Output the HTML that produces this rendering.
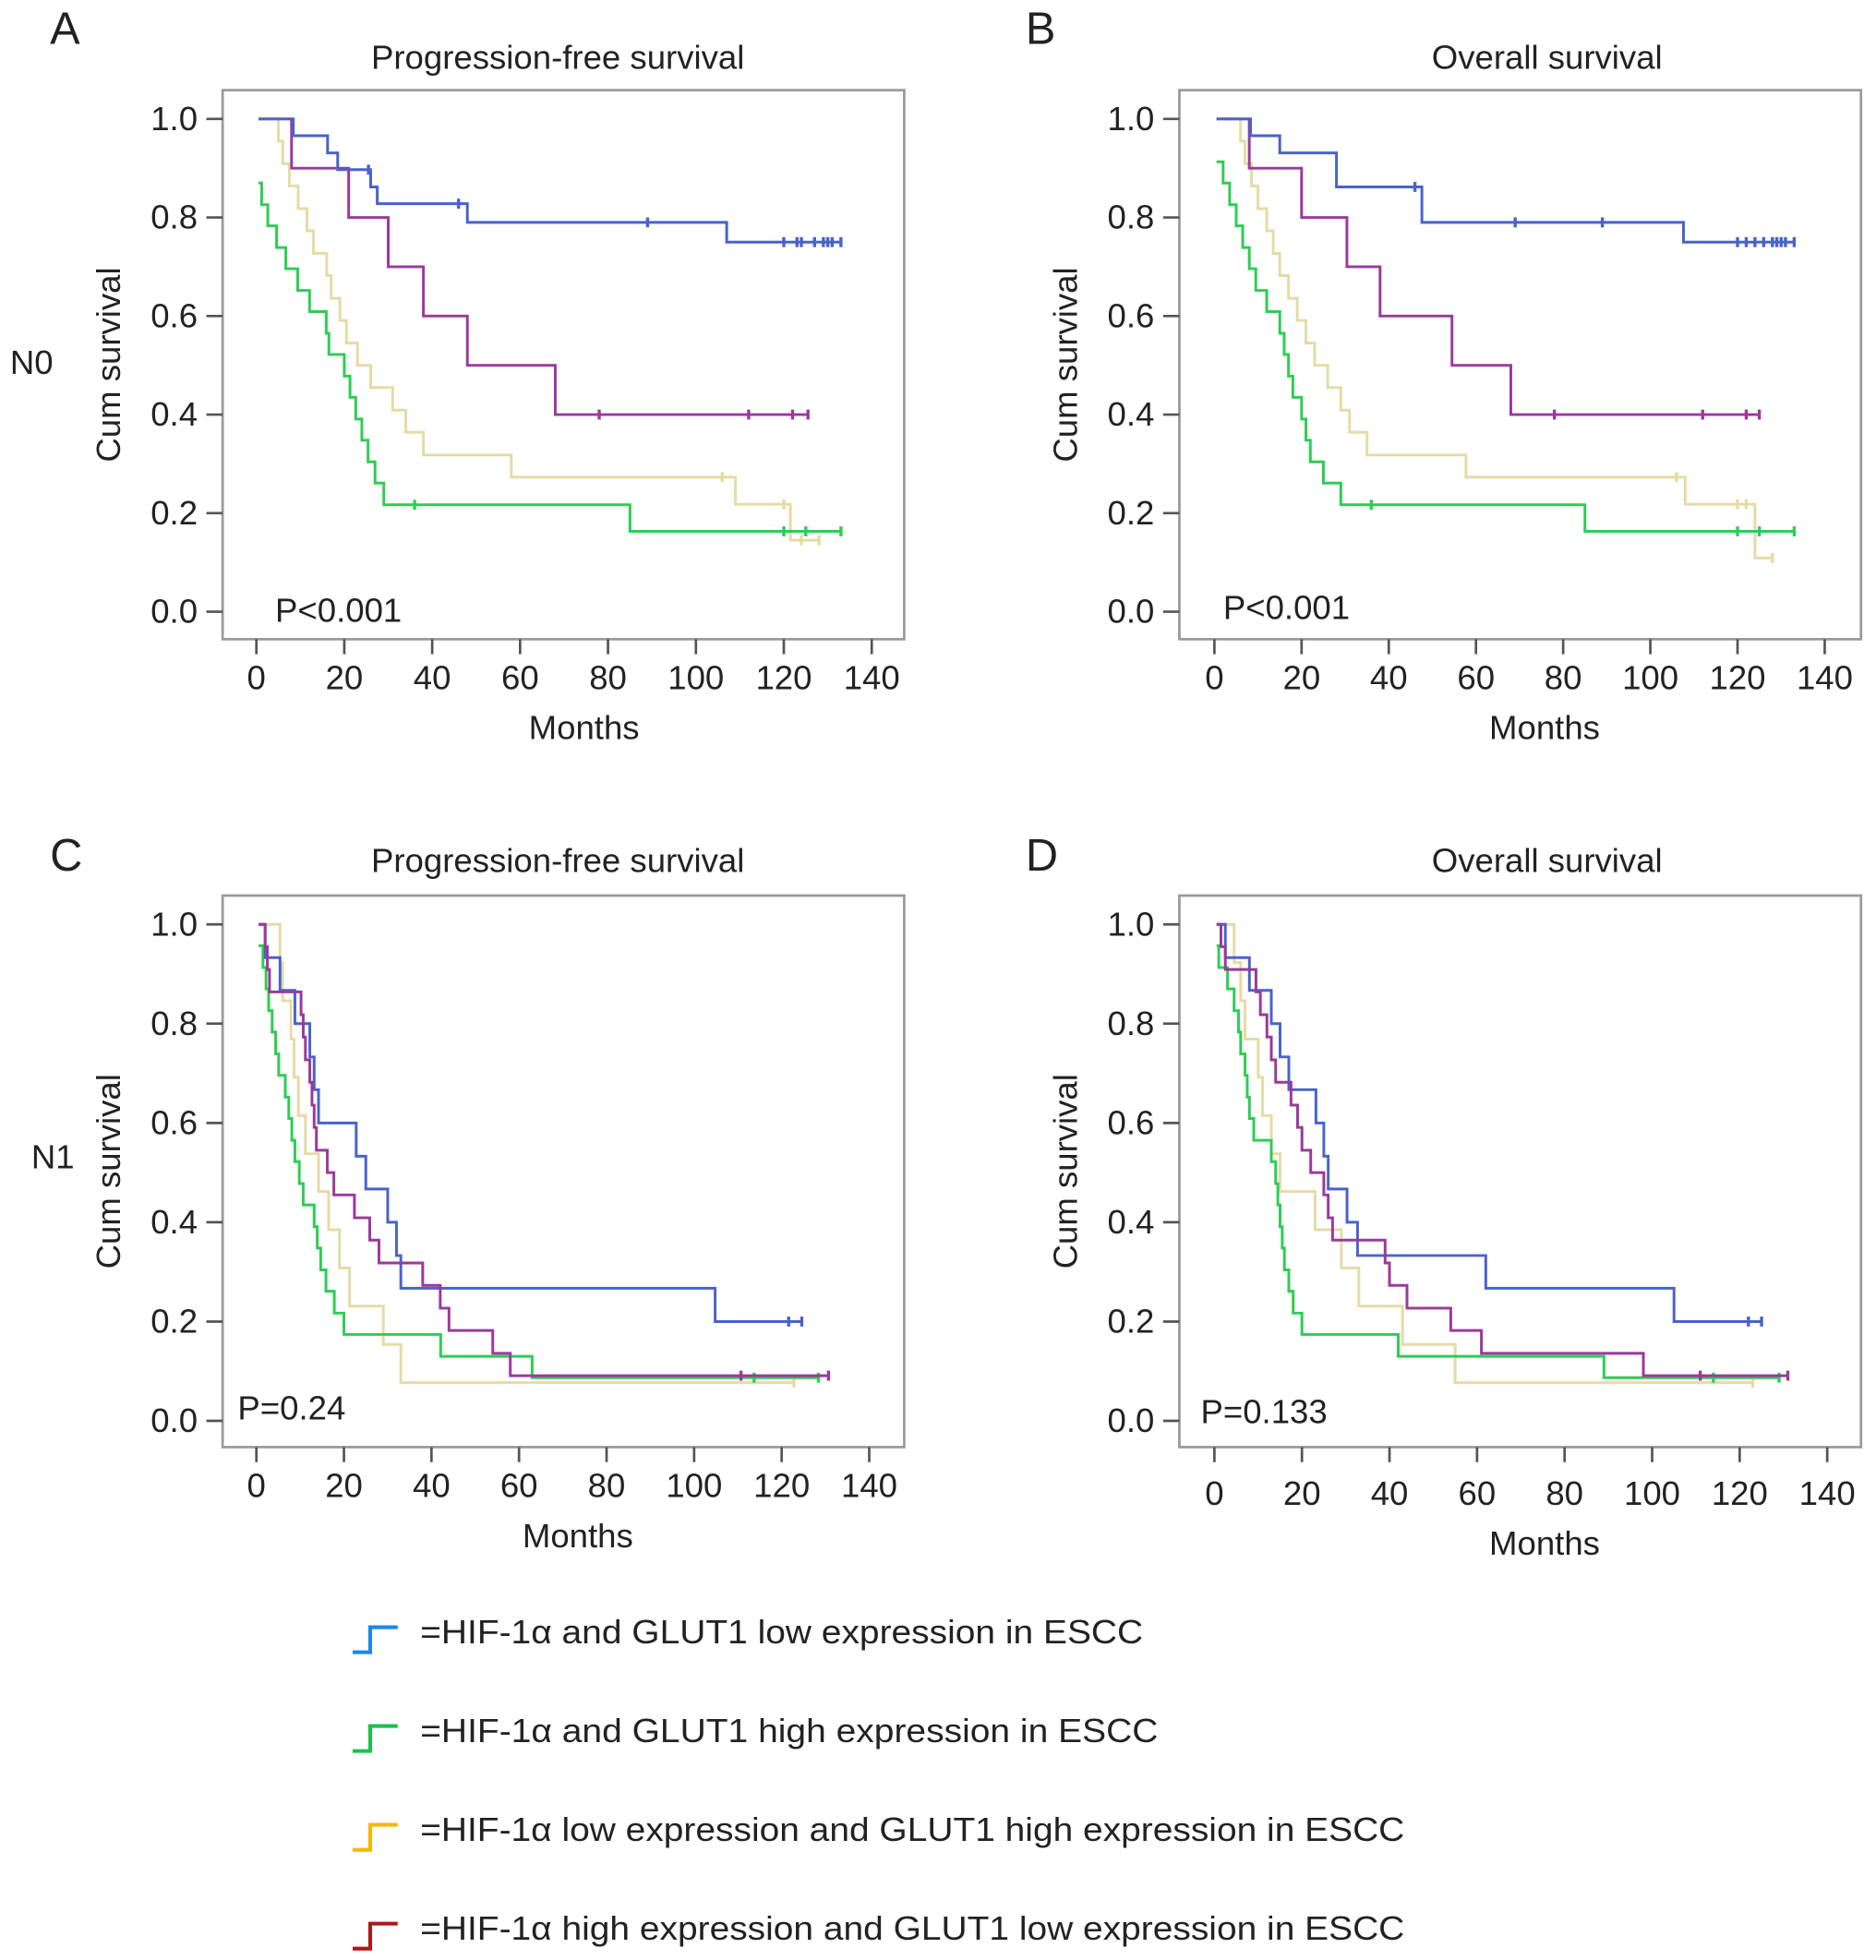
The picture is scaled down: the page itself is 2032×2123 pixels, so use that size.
<!DOCTYPE html>
<html><head><meta charset="utf-8">
<style>
html,body{margin:0;padding:0;background:#fff;}
svg{display:block;}
text{font-family:"Liberation Sans",Arial,sans-serif;fill:#222;}
</style></head>
<body>
<svg id="fig" width="2032" height="2123" viewBox="0 0 1500 1567" xmlns="http://www.w3.org/2000/svg">
<g id="root"></g>
<g id="legend">
  <g>
    <path d="M282 1321 H296 V1301 H318" fill="none" stroke="#1a88ee" stroke-width="3"/>
    <text x="336" y="1314" font-size="27" textLength="578" lengthAdjust="spacingAndGlyphs">=HIF-1α and GLUT1 low expression in ESCC</text>
  </g>
  <g>
    <path d="M282 1400 H296 V1380 H318" fill="none" stroke="#1bc24a" stroke-width="3"/>
    <text x="336" y="1393" font-size="27" textLength="590" lengthAdjust="spacingAndGlyphs">=HIF-1α and GLUT1 high expression in ESCC</text>
  </g>
  <g>
    <path d="M282 1479 H296 V1459 H318" fill="none" stroke="#f5b800" stroke-width="3"/>
    <text x="336" y="1472" font-size="27" textLength="787" lengthAdjust="spacingAndGlyphs">=HIF-1α low expression and GLUT1 high expression in ESCC</text>
  </g>
  <g>
    <path d="M282 1558 H296 V1538 H318" fill="none" stroke="#aa1a1a" stroke-width="3"/>
    <text x="336" y="1551" font-size="27" textLength="787" lengthAdjust="spacingAndGlyphs">=HIF-1α high expression and GLUT1 low expression in ESCC</text>
  </g>
</g>
</svg>
<script>
// ---------- data (months, survival) ----------
const xTicks = [0,20,40,60,80,100,120,140];
const yTicks = [0,0.2,0.4,0.6,0.8,1.0];
const yTickLabels = ["0.0","0.2","0.4","0.6","0.8","1.0"];

// Panel A: PFS N0
const aBlueT = [0.5,8.4,16.2,18.5,26,27.5,48,107,133];
const aBlueS = [1,0.966,0.931,0.897,0.862,0.828,0.79,0.75];
const aBlueC = [25.5,46,89,120,123,124,127,129,130,131,133];
const aPurpleT = [0.5,8,21,30,38,48,68,125.5];
const aPurpleS = [1,0.9,0.8,0.7,0.6,0.5,0.4];
const aPurpleC = [78,112,122,125.5];
const aYellowT = [0.5,5,6,7.5,9.5,11.5,13,16,17,19,20.5,23,26,31,34,38,58,109,121.5,128];
const aYellowS = [1,0.955,0.909,0.864,0.818,0.773,0.727,0.682,0.636,0.591,0.545,0.5,0.455,0.409,0.364,0.318,0.273,0.218,0.145];
const aYellowC = [106,120,124,128];
const aGreenT = [0.5,1.2,2.6,4.6,6.7,9.4,12.1,15.9,16.5,20,21.3,22.6,24,25.4,27,29,85,133];
const aGreenS = [0.87,0.826,0.783,0.739,0.696,0.652,0.609,0.565,0.522,0.478,0.435,0.391,0.348,0.304,0.261,0.217,0.163];
const aGreenC = [36,120,125,133];

// Panel B: OS N0
const bBlueT = [0.5,8.3,15,28,47.6,107.6,133];
const bBlueS = [1,0.966,0.931,0.862,0.79,0.75];
const bBlueC = [46,69,89,120,122,124,126,128,129,130,131,133];
const bPurpleT = [0.5,8,20,30.4,38,54.5,68,125];
const bPurpleS = [1,0.9,0.8,0.7,0.6,0.5,0.4];
const bPurpleC = [78,112,122,125];
const bYellowT = [0.5,6,7,8.5,10,12,13.5,15,17,19,21,23,26,29,31,35,57.7,108,124,128];
const bYellowS = [1,0.955,0.909,0.864,0.818,0.773,0.727,0.682,0.636,0.591,0.545,0.5,0.455,0.409,0.364,0.318,0.273,0.218,0.109];
const bYellowC = [106,120,122,128];
const bGreenT = [0.5,2,3.5,5,6.5,8,9.5,12,15,16,17,18,20,21,22,25,29,85,133];
const bGreenS = [0.913,0.87,0.826,0.783,0.739,0.696,0.652,0.609,0.565,0.522,0.478,0.435,0.391,0.348,0.304,0.261,0.217,0.163];
const bGreenC = [36,120,125,133];

// Panel C: PFS N1
const cBlueT = [0.5,2,5.4,8.8,12.2,13.2,14.2,22.8,25,30,32,33,104.8,124.6];
const cBlueS = [1,0.933,0.867,0.8,0.733,0.667,0.6,0.533,0.467,0.4,0.333,0.267,0.2];
const cBlueC = [121.6,124.6];
const cPurpleT = [0.5,2,2.5,3,10.2,10.7,11.2,12.2,12.7,13.2,13.7,16.2,17.7,22.4,25.9,28,38,42,44,54,58,130.7];
const cPurpleS = [1,0.955,0.909,0.864,0.818,0.773,0.727,0.682,0.636,0.591,0.545,0.5,0.455,0.409,0.364,0.318,0.273,0.227,0.182,0.136,0.091];
const cPurpleC = [110.7,130.7];
const cYellowT = [0.5,5.4,6,7.9,8.6,9.6,11.2,14.2,16.5,19,21.3,29,33,122.8];
const cYellowS = [1,0.923,0.846,0.769,0.692,0.615,0.538,0.462,0.385,0.308,0.231,0.154,0.077];
const cYellowC = [122.8];
const cGreenT = [0.5,1.5,2.2,2.8,3.6,4.4,5.1,6.6,7.4,8.1,8.8,9.8,10.7,13.2,13.9,14.7,15.9,17.8,20,42.1,63,128.4];
const cGreenS = [0.957,0.913,0.87,0.826,0.783,0.739,0.696,0.652,0.609,0.565,0.522,0.478,0.435,0.391,0.348,0.304,0.261,0.217,0.174,0.13,0.087];
const cGreenC = [113.7,128.4];

// Panel D: OS N1
const dBlueT = [0.5,2.5,8,13,15,17,23.2,25,26,30.3,32.7,62,105,125];
const dBlueS = [1,0.933,0.867,0.8,0.733,0.667,0.6,0.533,0.467,0.4,0.333,0.267,0.2];
const dBlueC = [122,125];
const dPurpleT = [0.5,1.5,2.5,9.5,10.5,12,13,14,17.5,19,20,22,25,26,27,39,40,44,54,61,98,131];
const dPurpleS = [1,0.955,0.909,0.864,0.818,0.773,0.727,0.682,0.636,0.591,0.545,0.5,0.455,0.409,0.364,0.318,0.273,0.227,0.182,0.136,0.091];
const dPurpleC = [111,131];
const dYellowT = [0.5,4.5,6,7,10,11,13,15,23,29,33,43,55,123];
const dYellowS = [1,0.923,0.846,0.769,0.692,0.615,0.538,0.462,0.385,0.308,0.231,0.154,0.077];
const dYellowC = [123];
const dGreenT = [0.5,1,3,4.5,5.5,6,7,7.5,8,9,13,14,14.5,15,15.5,16,17,18,20,42,89,129];
const dGreenS = [0.957,0.913,0.87,0.826,0.783,0.739,0.696,0.652,0.609,0.565,0.522,0.478,0.435,0.391,0.348,0.304,0.261,0.217,0.174,0.13,0.087];
const dGreenC = [114,129];

const COL = {blue:"#4a63c8", purple:"#9a3a9c", yellow:"#e6dba6", green:"#2fcc55"};
const NS = "http://www.w3.org/2000/svg";
const root = document.getElementById('root');
function el(tag, attrs, parent){const e=document.createElementNS(NS,tag);for(const k in attrs)e.setAttribute(k,attrs[k]);(parent||root).appendChild(e);return e;}
function txt(s, attrs, parent){const e=el('text',attrs,parent);e.textContent=s;return e;}

const panels = [
 {id:'a',letter:'A',lx:40,ly:35,title:'Progression-free survival',tx:446,p:'P<0.001',box:[178,72,723,511],x0:205,x140:697,y1:95,y0:489,tickY:551,monthsY:591,mx:467,titleY:55,py:497,px:220,row:'N0',rowX:8,rowY:299,
  series:[['yellow',aYellowT,aYellowS,aYellowC],['green',aGreenT,aGreenS,aGreenC],['purple',aPurpleT,aPurpleS,aPurpleC],['blue',aBlueT,aBlueS,aBlueC]]},
 {id:'b',letter:'B',lx:820,ly:35,title:'Overall survival',tx:1237,p:'P<0.001',box:[943,72,1488,511],x0:971,x140:1459,y1:95,y0:489,tickY:551,monthsY:591,mx:1235,titleY:55,py:495,px:978,
  series:[['yellow',bYellowT,bYellowS,bYellowC],['green',bGreenT,bGreenS,bGreenC],['purple',bPurpleT,bPurpleS,bPurpleC],['blue',bBlueT,bBlueS,bBlueC]]},
 {id:'c',letter:'C',lx:40,ly:696,title:'Progression-free survival',tx:446,p:'P=0.24',box:[178,716,723,1157],x0:205,x140:695,y1:739,y0:1136,tickY:1197,monthsY:1237,mx:462,titleY:697,py:1135,px:190,row:'N1',rowX:25,rowY:934,
  series:[['yellow',cYellowT,cYellowS,cYellowC],['green',cGreenT,cGreenS,cGreenC],['blue',cBlueT,cBlueS,cBlueC],['purple',cPurpleT,cPurpleS,cPurpleC]]},
 {id:'d',letter:'D',lx:820,ly:696,title:'Overall survival',tx:1237,p:'P=0.133',box:[943,716,1488,1157],x0:971,x140:1461,y1:739,y0:1136,tickY:1203,monthsY:1243,mx:1235,titleY:697,py:1138,px:960,
  series:[['yellow',dYellowT,dYellowS,dYellowC],['green',dGreenT,dGreenS,dGreenC],['blue',dBlueT,dBlueS,dBlueC],['purple',dPurpleT,dPurpleS,dPurpleC]]}
];

panels.forEach(P=>{
  const g = el('g',{});
  
  
  const X = t => P.x0 + (P.x140-P.x0)*t/140;
  const Y = s => P.y0 - (P.y0-P.y1)*s;
  const [bx1,by1,bx2,by2]=P.box;
  const bg = el('rect',{x:bx1,y:by1,width:bx2-bx1,height:by2-by1,fill:'#fff',stroke:'#999','stroke-width':2},g);
  
  
  const lt = txt(P.letter,{x:P.lx,y:P.ly,'font-size':36},g);
  
  
  const tt = txt(P.title,{x:P.tx,y:P.titleY,'font-size':27,'text-anchor':'middle'},g);
  
  
  yTicks.forEach((v,i)=>{
    el('line',{x1:bx1-13,x2:bx1,y1:Y(v),y2:Y(v),stroke:'#555','stroke-width':2},g);
    const t = txt(yTickLabels[i],{x:bx1-20,y:Y(v)+9,'font-size':27,'text-anchor':'end'},g);
    
    
  });
  const yl = txt('Cum survival',{x:0,y:0,'font-size':27,'text-anchor':'middle',transform:`translate(${bx1-82},${(by1+by2)/2}) rotate(-90)`},g);
  
  
  xTicks.forEach(v=>{
    el('line',{x1:X(v),x2:X(v),y1:by2,y2:by2+12,stroke:'#555','stroke-width':2},g);
    const t = txt(String(v),{x:X(v),y:P.tickY,'font-size':27,'text-anchor':'middle'},g);
    
    
  });
  const xl = txt('Months',{x:P.mx,y:P.monthsY,'font-size':27,'text-anchor':'middle'},g);
  
  
  const pv = txt(P.p,{x:P.px,y:P.py,'font-size':27},g);
  
  
  if(P.row){
    const r = txt(P.row,{x:P.rowX,y:P.rowY,'font-size':27},g);
    
    
  }
  P.series.forEach(([c,T,S,C])=>{
    let d = `M${X(T[0])} ${Y(S[0])}`;
    for(let i=1;i<T.length;i++){
      d += ` H${X(T[i])}`;
      if(i<S.length) d += ` V${Y(S[i])}`;
    }
    const path = el('path',{d:d,fill:'none',stroke:COL[c],'stroke-width':2.2},g);
    
    
    C.forEach(t=>{
      let s = S[0];
      for(let i=0;i<S.length;i++){ if(T[i]<=t) s=S[i]; }
      const m = el('line',{x1:X(t),x2:X(t),y1:Y(s)-4,y2:Y(s)+4,stroke:COL[c],'stroke-width':2.5},g);
      
      
    });
  });
});
</script>
</body></html>
